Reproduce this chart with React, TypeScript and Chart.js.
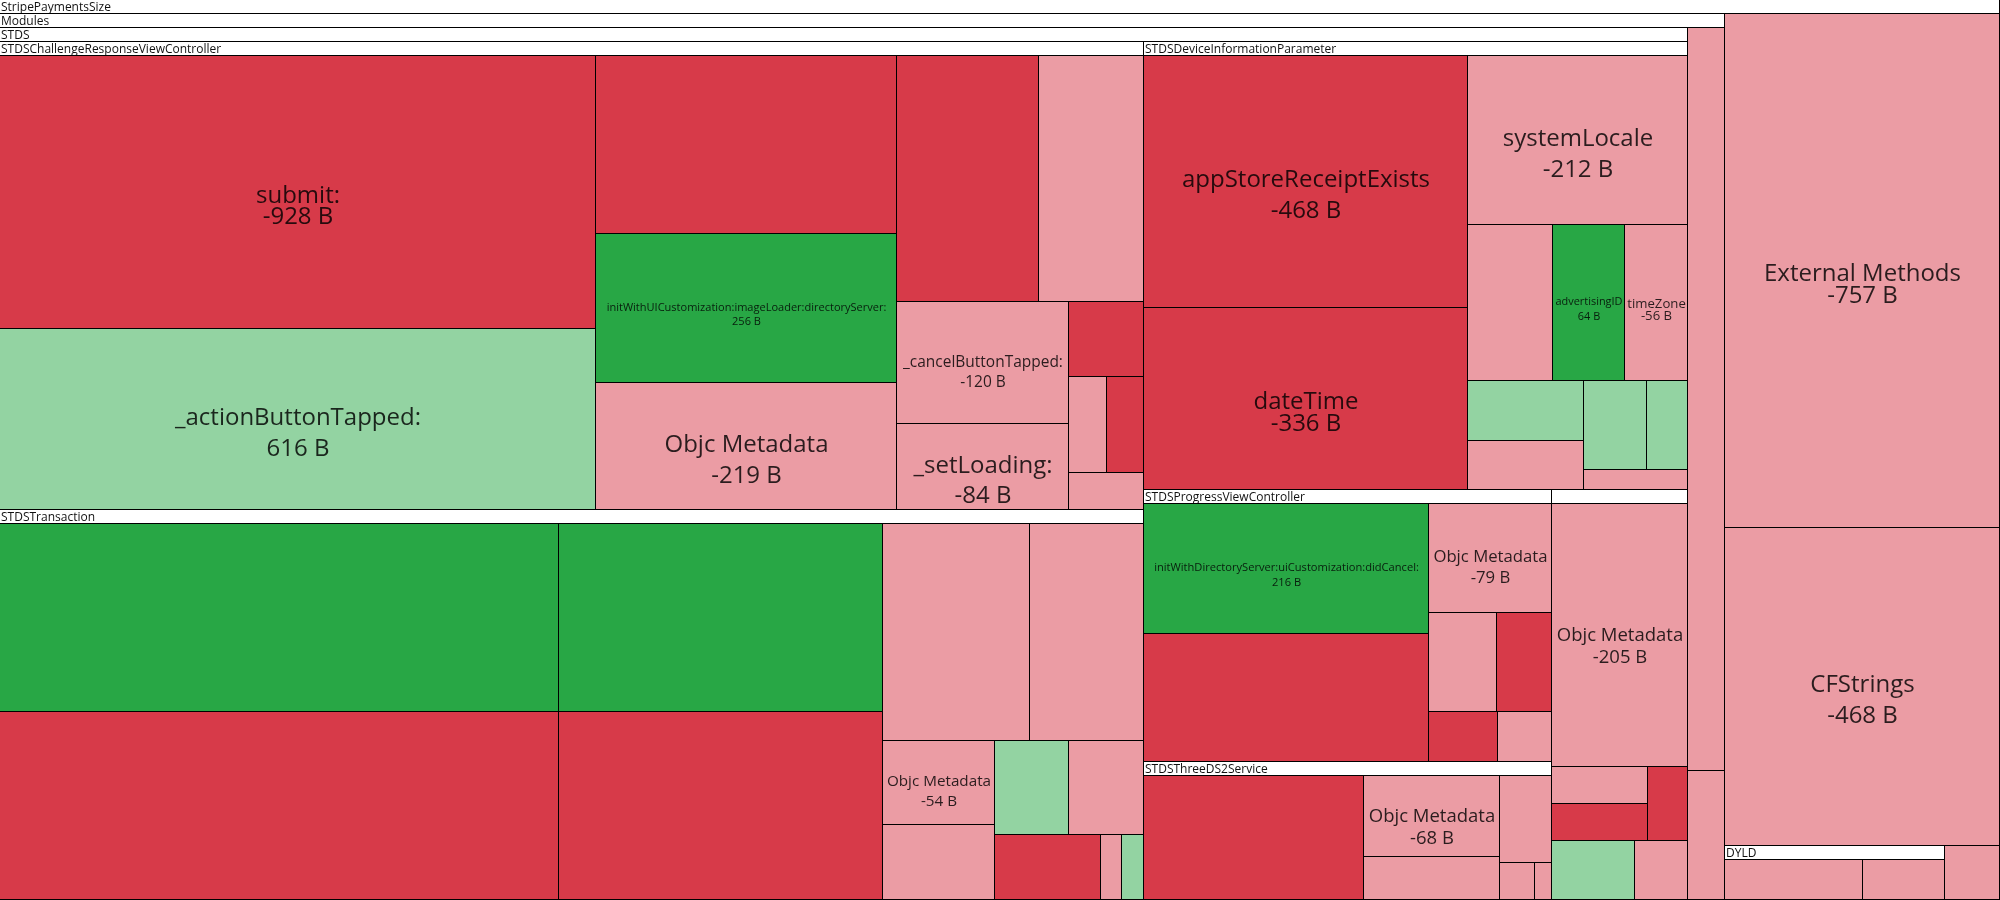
import React, { useEffect, useRef } from 'react';
import { Chart, registerables } from 'chart.js';

Chart.register(...registerables);

// ---------- layout constants ----------
const TREE_WIDTH = 2000;
const TREE_HEIGHT = 900;
const HEADER_HEIGHT = 14;
const PHI = (1 + Math.sqrt(5)) / 2;
const FONT = '"Open Sans", "Noto Sans", sans-serif';
const MAX_LABEL_FONT = 24;

// R = removed, D = decreased, A = added, I = increased
const KIND_COLORS: Record<string, string> = {
  R: '#d73a49',
  D: '#eb9ca4',
  A: '#28a745',
  I: '#93d3a2',
};

// ---------- data (size diffs in bytes) ----------
const challengeNames = ['submit:', '_actionButtonTapped:', '', 'initWithUICustomization:imageLoader:directoryServer:', 'Objc Metadata', '', '', '_cancelButtonTapped:', '_setLoading:', '', '', '', ''];
const challengeDiffs = [-928, 616, -306, 256, -219, -199, -147, -120, -84, -32, -21, -20, -16];
const challengeKinds = ['R', 'I', 'R', 'A', 'D', 'R', 'D', 'D', 'D', 'R', 'D', 'R', 'D'];

const transactionNames = ['', '', '', '', '', '', 'Objc Metadata', '', '', '', '', '', ''];
const transactionDiffs = [603, -603, 349, -349, -184, -141, -54, -48, 40, -40, -40, -8, 8];
const transactionKinds = ['A', 'R', 'A', 'R', 'D', 'D', 'D', 'D', 'I', 'D', 'R', 'D', 'I'];

const deviceNames = ['appStoreReceiptExists', 'dateTime', 'systemLocale', '', 'advertisingID', 'timeZone', '', '', '', '', ''];
const deviceDiffs = [-468, -336, -212, -76, 64, -56, 40, -32, 32, 21, -12];
const deviceKinds = ['R', 'R', 'D', 'D', 'A', 'D', 'I', 'D', 'I', 'I', 'D'];

const progressNames = ['initWithDirectoryServer:uiCustomization:didCancel:', '', 'Objc Metadata', '', '', '', ''];
const progressDiffs = [216, -214, -79, -39, -32, -20, -16];
const progressKinds = ['A', 'R', 'D', 'D', 'R', 'R', 'D'];

const serviceNames = ['', 'Objc Metadata', '', '', '', ''];
const serviceDiffs = [-168, -68, -36, -28, -8, -4];
const serviceKinds = ['R', 'D', 'D', 'D', 'D', 'D'];

const otherClassNames = ['Objc Metadata'];
const otherClassDiffs = [-205];
const otherClassKinds = ['D'];
const otherSubADiffs = [-20, -20, -17];
const otherSubAKinds = ['D', 'R', 'R'];
const otherSubBDiffs = [28, -18];
const otherSubBKinds = ['I', 'D'];

const moduleLeafDiffs = [-150, -26];
const moduleLeafKinds = ['D', 'D'];

const dyldDiffs = [-40, -24];
const dyldKinds = ['D', 'D'];

const rootLeafNames = ['External Methods', 'CFStrings', ''];
const rootLeafDiffs = [-757, -468, -16];
const rootLeafKinds = ['D', 'D', 'D'];

// ---------- tree ----------
interface TNode {
  name: string;
  diff: number;
  kind: string;
  header: boolean;
  value: number;
  children?: TNode[];
  x0: number; y0: number; x1: number; y1: number;
}

function leaf(name: string, diff: number, kind: string): TNode {
  return { name, diff, kind, header: false, value: Math.abs(diff), x0: 0, y0: 0, x1: 0, y1: 0 };
}
function leaves(names: string[], diffs: number[], kinds: string[]): TNode[] {
  return diffs.map((d, i) => leaf(names[i] || '', d, kinds[i]));
}
function group(name: string, children: TNode[], header = true): TNode {
  const value = children.reduce((s, c) => s + c.value, 0);
  return { name, diff: 0, kind: '', header, value, children, x0: 0, y0: 0, x1: 0, y1: 0 };
}

function buildTree(): TNode {
  const stds = group('STDS', [
    group('STDSChallengeResponseViewController', leaves(challengeNames, challengeDiffs, challengeKinds)),
    group('STDSTransaction', leaves(transactionNames, transactionDiffs, transactionKinds)),
    group('STDSDeviceInformationParameter', leaves(deviceNames, deviceDiffs, deviceKinds)),
    group('STDSProgressViewController', leaves(progressNames, progressDiffs, progressKinds)),
    group('STDSThreeDS2Service', leaves(serviceNames, serviceDiffs, serviceKinds)),
    group('', [
      ...leaves(otherClassNames, otherClassDiffs, otherClassKinds),
      group('', leaves([], otherSubADiffs, otherSubAKinds), false),
      group('', leaves([], otherSubBDiffs, otherSubBKinds), false),
    ]),
  ]);
  const modules = group('Modules', [stds, ...leaves([], moduleLeafDiffs, moduleLeafKinds)]);
  const rootLeaves = leaves(rootLeafNames, rootLeafDiffs, rootLeafKinds);
  return group('StripePaymentsSize', [
    modules,
    rootLeaves[0],
    rootLeaves[1],
    group('DYLD', leaves([], dyldDiffs, dyldKinds)),
    rootLeaves[2],
  ]);
}

// ---------- squarified layout (d3-style, golden ratio) ----------
function dice(nodes: TNode[], value: number, x0: number, y0: number, x1: number, y1: number) {
  const k = value ? (x1 - x0) / value : 0;
  for (const n of nodes) { n.y0 = y0; n.y1 = y1; n.x0 = x0; n.x1 = x0 += n.value * k; }
}
function slice(nodes: TNode[], value: number, x0: number, y0: number, x1: number, y1: number) {
  const k = value ? (y1 - y0) / value : 0;
  for (const n of nodes) { n.x0 = x0; n.x1 = x1; n.y0 = y0; n.y1 = y0 += n.value * k; }
}
function squarify(parent: TNode, x0: number, y0: number, x1: number, y1: number) {
  const nodes = (parent.children || []).slice().sort((a, b) => b.value - a.value);
  let value = parent.value;
  let i0 = 0, i1 = 0;
  const n = nodes.length;
  while (i0 < n) {
    const dx = x1 - x0, dy = y1 - y0;
    let sumValue = 0;
    do sumValue = nodes[i1++].value; while (!sumValue && i1 < n);
    let minValue = sumValue, maxValue = sumValue;
    const alpha = Math.max(dy / dx, dx / dy) / (value * PHI);
    let beta = sumValue * sumValue * alpha;
    let minRatio = Math.max(maxValue / beta, beta / minValue);
    for (; i1 < n; ++i1) {
      const nv = nodes[i1].value;
      sumValue += nv;
      if (nv < minValue) minValue = nv;
      if (nv > maxValue) maxValue = nv;
      beta = sumValue * sumValue * alpha;
      const newRatio = Math.max(maxValue / beta, beta / minValue);
      if (newRatio > minRatio) { sumValue -= nv; break; }
      minRatio = newRatio;
    }
    const row = nodes.slice(i0, i1);
    if (dx < dy) {
      const yy = dy ? y0 + (dy * sumValue) / value : y1;
      dice(row, sumValue, x0, y0, x1, yy);
      y0 = yy;
    } else {
      const xx = dx ? x0 + (dx * sumValue) / value : x1;
      slice(row, sumValue, x0, y0, xx, y1);
      x0 = xx;
    }
    value -= sumValue;
    i0 = i1;
  }
}
function layoutNode(node: TNode, x0: number, y0: number, x1: number, y1: number) {
  node.x0 = x0; node.y0 = y0; node.x1 = x1; node.y1 = y1;
  if (!node.children) return;
  const top = node.header ? HEADER_HEIGHT : 0;
  squarify(node, x0, y0 + top, x1, y1);
  for (const c of node.children) layoutNode(c, c.x0, c.y0, c.x1, c.y1);
}
function collectLeaves(node: TNode, out: TNode[] = []): TNode[] {
  if (node.children) node.children.forEach((c) => collectLeaves(c, out));
  else out.push(node);
  return out;
}

// ---------- drawing ----------
function drawLabel(ctx: CanvasRenderingContext2D, n: TNode, x0: number, y0: number, x1: number, y1: number) {
  const w = x1 - x0, h = y1 - y0;
  const valueText = `${n.diff} B`;
  ctx.font = `${MAX_LABEL_FONT}px ${FONT}`;
  const wide = Math.max(ctx.measureText(n.name).width, ctx.measureText(valueText).width);
  let fs = Math.min(MAX_LABEL_FONT, (MAX_LABEL_FONT * 0.93 * w) / wide);
  ctx.font = `${fs}px ${FONT}`;
  let m = ctx.measureText(n.name);
  let asc = m.actualBoundingBoxAscent;
  let desc = Math.max(0, m.actualBoundingBoxDescent);
  let spacing = 0.9 * fs + 1.45 * desc;
  let blockH = asc + spacing;
  if (blockH > h * 0.9) {
    fs = fs * (h * 0.9) / blockH;
    ctx.font = `${fs}px ${FONT}`;
    m = ctx.measureText(n.name);
    asc = m.actualBoundingBoxAscent;
    desc = Math.max(0, m.actualBoundingBoxDescent);
    spacing = 0.9 * fs + 1.45 * desc;
    blockH = asc + spacing;
  }
  if (fs < 5) return;
  const cx = (x0 + x1) / 2;
  const cy = (y0 + y1) / 2 + 0.5 * fs;
  const b1 = cy - blockH / 2 + asc;
  ctx.fillStyle = 'rgba(0,0,0,0.82)';
  ctx.textAlign = 'center';
  ctx.textBaseline = 'alphabetic';
  ctx.fillText(n.name, cx, b1);
  ctx.fillText(valueText, cx, b1 + spacing);
}

function makePlugin(root: TNode) {
  return {
    id: 'treemapCells',
    afterDatasetsDraw(chart: any) {
      const ctx: CanvasRenderingContext2D = chart.ctx;
      const xs = chart.scales.x, ys = chart.scales.y;
      const px = (v: number) => Math.round(xs.getPixelForValue(v));
      const py = (v: number) => Math.round(ys.getPixelForValue(v));
      ctx.save();
      const drawNode = (n: TNode) => {
        const x0 = px(n.x0), x1 = px(n.x1), y0 = py(n.y0), y1 = py(n.y1);
        ctx.fillStyle = n.children ? '#ffffff' : KIND_COLORS[n.kind];
        ctx.fillRect(x0, y0, x1 - x0, y1 - y0);
        ctx.strokeStyle = '#000000';
        ctx.lineWidth = 1;
        ctx.strokeRect(x0 - 0.5, y0 - 0.5, x1 - x0, y1 - y0);
        if (n.children) {
          if (n.header && n.name) {
            ctx.font = `12px ${FONT}`;
            if (ctx.measureText(n.name).width <= x1 - x0) {
              ctx.fillStyle = '#111111';
              ctx.textAlign = 'left';
              ctx.textBaseline = 'alphabetic';
              ctx.fillText(n.name, x0 + 1, y0 + 10.5);
            }
          }
          n.children.forEach(drawNode);
        } else if (n.name) {
          drawLabel(ctx, n, x0, y0, x1, y1);
        }
      };
      drawNode(root);
      ctx.restore();
    },
  };
}

export default function App() {
  const canvasRef = useRef<HTMLCanvasElement | null>(null);

  useEffect(() => {
    const canvas = canvasRef.current;
    if (!canvas) return;
    const root = buildTree();
    layoutNode(root, 0, 0, TREE_WIDTH, TREE_HEIGHT);
    const cells = collectLeaves(root);
    const chart = new Chart(canvas, {
      type: 'scatter',
      data: {
        datasets: [
          {
            label: 'StripePaymentsSize',
            data: cells.map((c) => ({ x: (c.x0 + c.x1) / 2, y: (c.y0 + c.y1) / 2 })),
            pointRadius: 0,
            pointHoverRadius: 0,
          },
        ],
      },
      options: {
        animation: false,
        responsive: false,
        maintainAspectRatio: false,
        devicePixelRatio: 1,
        layout: { padding: 0 },
        events: [],
        scales: {
          x: { type: 'linear', min: 0, max: TREE_WIDTH, display: false },
          y: { type: 'linear', min: 0, max: TREE_HEIGHT, reverse: true, display: false },
        },
        plugins: {
          legend: { display: false },
          tooltip: { enabled: false },
          title: { display: false },
        },
      },
      plugins: [makePlugin(root)],
    });
    return () => chart.destroy();
  }, []);

  return (
    <div style={{ position: 'absolute', left: 0, top: 0, width: TREE_WIDTH, height: TREE_HEIGHT, background: '#ffffff' }}>
      <canvas ref={canvasRef} width={TREE_WIDTH} height={TREE_HEIGHT} style={{ display: 'block' }} />
    </div>
  );
}
